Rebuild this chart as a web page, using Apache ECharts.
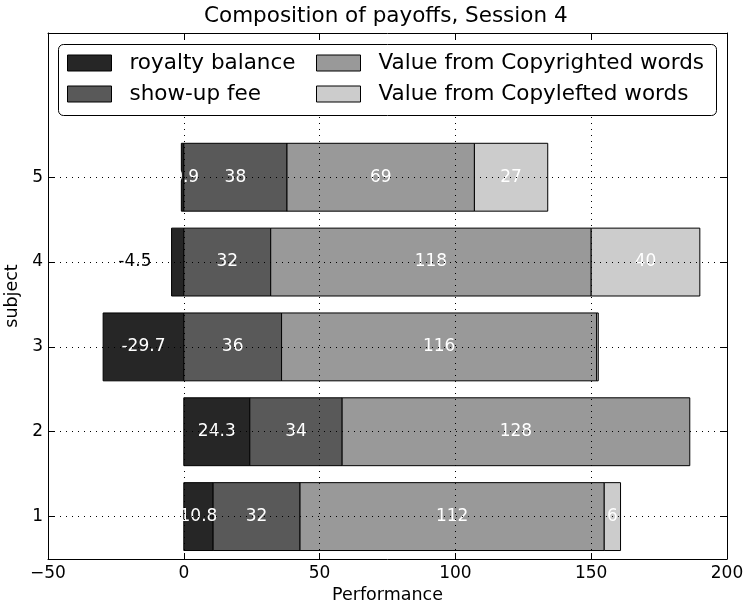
<!DOCTYPE html>
<html>
<head>
<meta charset="utf-8">
<script src="https://cdn.jsdelivr.net/npm/echarts@6/dist/echarts.min.js"></script>
<style>
html,body{margin:0;padding:0;background:#fff;}
#chart{width:747px;height:606px;}
</style>
</head>
<body>
<div id="chart"></div>
<script>
// ---- data ----
const subjects = [1, 2, 3, 4, 5];
const royaltyBalance = [10.8, 24.3, -29.7, -4.5, -0.9];
const showUpFee = [32, 34, 36, 32, 38];
const copyrightedValue = [112, 128, 116, 118, 69];
const copyleftedValue = [6, 0, 0.6, 40, 27];
const seriesNames = ['royalty balance', 'show-up fee', 'Value from Copyrighted words', 'Value from Copylefted words'];
const xTickRange = { min: -50, max: 200, step: 50 };
const titleText = 'Composition of payoffs, Session 4';

// ---- styling ----
const FONT = 'DejaVu Sans';
const colors = ['#262626', '#595959', '#999999', '#cccccc'];
const BAR_HALF = 0.4;
// label of subject 4 royalty drawn outside the bar in black (as in reference)
const outsideLabel = { seriesIndex: 0, subject: 4, centerValue: -18 };

// stacking: negatives go left of 0, positives stack from max(0, royalty)
function buildSegments() {
  const all = [royaltyBalance, showUpFee, copyrightedValue, copyleftedValue];
  const out = all.map(() => []);
  subjects.forEach((s, i) => {
    const r = royaltyBalance[i];
    out[0].push([0, r, s, r]);
    let base = Math.max(0, r);
    for (let k = 1; k < all.length; k++) {
      const v = all[k][i];
      out[k].push([base, base + v, s, v]);
      base += v;
    }
  });
  return out;
}
const segments = buildSegments();

function labelText(k, v) {
  if (k === 0) return v === 0 ? '' : v.toFixed(1);
  const t = Math.trunc(v);
  return t === 0 ? '' : String(t);
}

function makeRender(k) {
  return function (params, api) {
    const s = api.value(0), e = api.value(1), y = api.value(2), v = api.value(3);
    if (v === 0) return null;
    const p1 = api.coord([s, y + BAR_HALF]);
    const p2 = api.coord([e, y - BAR_HALF]);
    const x0 = Math.min(p1[0], p2[0]);
    const w = Math.abs(p2[0] - p1[0]);
    const children = [{
      type: 'rect',
      shape: { x: x0, y: p1[1], width: w, height: p2[1] - p1[1] },
      style: { fill: colors[k], stroke: '#000', lineWidth: 1 }
    }];
    const txt = labelText(k, v);
    if (txt) {
      let cx = x0 + w / 2, fill = '#fff';
      if (k === outsideLabel.seriesIndex && y === outsideLabel.subject) {
        cx = api.coord([outsideLabel.centerValue, y])[0];
        fill = '#000';
      }
      const cy = api.coord([0, y])[1];
      children.push({
        type: 'text',
        z2: 10,
        style: { text: txt, x: cx, y: cy, fill: fill, font: '17px "' + FONT + '"', align: 'center', verticalAlign: 'middle' }
      });
    }
    return { type: 'group', children: children };
  };
}

const chart = echarts.init(document.getElementById('chart'), null, { renderer: 'canvas' });
const minusFmt = v => String(v).replace('-', '\u2212');
const gridLine = { show: true, lineStyle: { color: '#000', width: 1, type: [1, 5] } };

const option = {
  animation: false,
  backgroundColor: '#fff',
  textStyle: { fontFamily: FONT },
  title: {
    text: titleText, left: 204, top: 5, padding: 0,
    textStyle: { fontFamily: FONT, fontSize: 21.5, fontWeight: 'normal', color: '#000' }
  },
  grid: { left: 48, right: 20, top: 33, bottom: 47, containLabel: false, outerBoundsMode: 'none' },
  xAxis: [{
    type: 'value', position: 'bottom', min: xTickRange.min, max: xTickRange.max, interval: xTickRange.step,
    z: 3,
    name: 'Performance', nameLocation: 'middle', nameGap: 25,
    nameTextStyle: { fontFamily: FONT, fontSize: 17.5, color: '#000' },
    axisLine: { show: true, onZero: false, lineStyle: { color: '#000', width: 1 } },
    axisTick: { show: true, inside: true, length: 6, lineStyle: { color: '#000' } },
    axisLabel: { color: '#000', fontFamily: FONT, fontSize: 17, margin: 6, formatter: minusFmt },
    splitLine: gridLine
  }, {
    type: 'value', position: 'top', min: xTickRange.min, max: xTickRange.max, interval: xTickRange.step,
    z: 3,
    axisLine: { show: true, onZero: false, lineStyle: { color: '#000', width: 1 } },
    axisTick: { show: true, inside: true, length: 6, lineStyle: { color: '#000' } },
    axisLabel: { show: false },
    splitLine: { show: false }
  }],
  yAxis: [{
    type: 'value', position: 'left', min: 0.5, max: 6.7,
    z: 3,
    name: 'subject', nameLocation: 'middle', nameGap: 19, nameRotate: 90,
    nameTextStyle: { fontFamily: FONT, fontSize: 17.5, color: '#000' },
    axisLine: { show: true, onZero: false, lineStyle: { color: '#000', width: 1 } },
    axisTick: { show: true, inside: true, length: 6, lineStyle: { color: '#000' }, customValues: subjects },
    axisLabel: { color: '#000', fontFamily: FONT, fontSize: 17, margin: 5, customValues: subjects },
    splitLine: gridLine
  }, {
    type: 'value', position: 'right', min: 0.5, max: 6.7,
    z: 3,
    axisLine: { show: true, onZero: false, lineStyle: { color: '#000', width: 1 } },
    axisTick: { show: true, inside: true, length: 6, lineStyle: { color: '#000' }, customValues: subjects },
    axisLabel: { show: false, customValues: subjects },
    splitLine: { show: false }
  }],
  graphic: [{
    type: 'rect', z: 10, left: 58, top: 44,
    shape: { width: 658, height: 71, r: 5 },
    style: { fill: '#fff', stroke: '#000', lineWidth: 1 }
  }],
  legend: [0, 1].map(col => ({
    z: 11,
    orient: 'vertical',
    left: col === 0 ? 67 : 316,
    top: 52,
    padding: 0,
    itemGap: 9,
    itemWidth: 44,
    itemHeight: 16,
    icon: 'rect',
    data: seriesNames.slice(col * 2, col * 2 + 2),
    itemStyle: { borderColor: '#000', borderWidth: 1 },
    textStyle: { fontFamily: FONT, fontSize: 21.5, color: '#000', padding: [0, 0, 0, 13] }
  })),
  series: segments.map((d, k) => ({
    type: 'custom',
    name: seriesNames[k],
    xAxisIndex: 0, yAxisIndex: 0,
    itemStyle: { color: colors[k], borderColor: '#000', borderWidth: 1 },
    renderItem: makeRender(k),
    encode: { x: [0, 1], y: 2 },
    data: d,
    z: 2
  }))
};
chart.setOption(option);
</script>
</body>
</html>
